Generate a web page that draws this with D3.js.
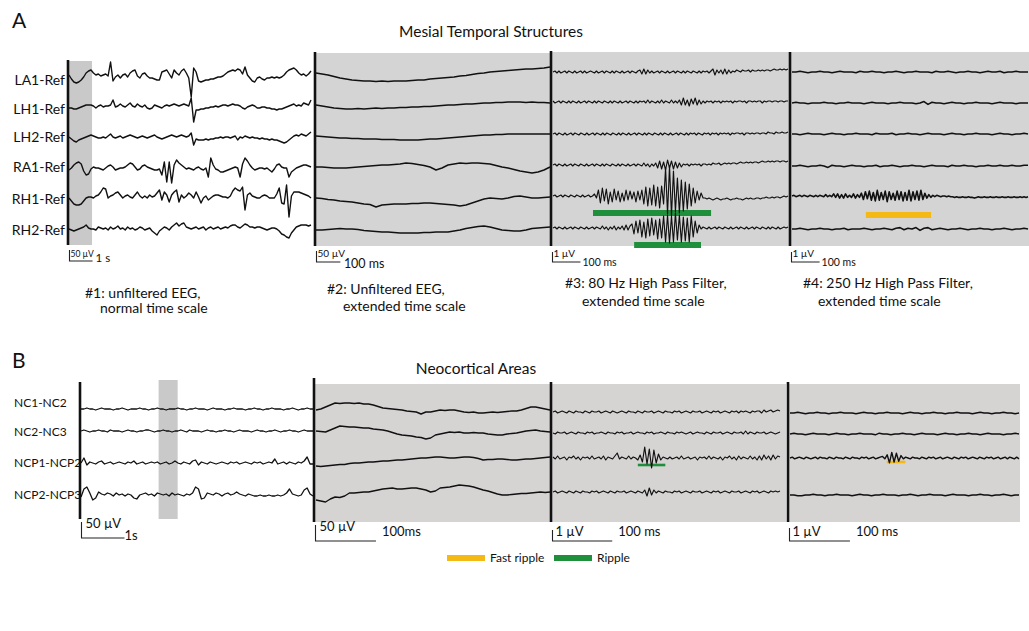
<!DOCTYPE html>
<html><head><meta charset="utf-8">
<script src="https://cdn.jsdelivr.net/npm/d3@7"></script>
<style>body{margin:0;background:#fff}svg{display:block}text{font-family:Lato,"Open Sans",sans-serif;fill:#111}</style>
</head><body><script>
// ---------------- DATA ----------------
const rowsA = ["LA1-Ref","LH1-Ref","LH2-Ref","RA1-Ref","RH1-Ref","RH2-Ref"];
const rowsB = ["NC1-NC2","NC2-NC3","NCP1-NCP2","NCP2-NCP3"];
const titleA = "Mesial Temporal Structures";
const titleB = "Neocortical Areas";
const captionsA = [["#1: unfiltered EEG,","normal time scale"],["#2: Unfiltered EEG,","extended time scale"],["#3: 80 Hz High Pass Filter,","extended time scale"],["#4: 250 Hz High Pass Filter,","extended time scale"]];
const scaleVoltA = ["50 µV","50 µV","1 µV","1 µV"];
const scaleTimeA = ["1 s","100 ms","100 ms","100 ms"];
const scaleVoltB = ["50 µV","50 µV","1 µV","1 µV"];
const scaleTimeB = ["1s","100ms","100 ms","100 ms"];
const durA = [10.5, 980, 840, 840];      // window length (s / ms)
const durB = [5.4, 387, 380, 379];
const barDurA = [1, 100, 100, 100];
const barDurB = [1, 100, 100, 100];
const barAmpA = [11, 11, 10, 10];        // scale-bar height in trace units
const barAmpB = [16, 16, 11, 13];
const highlightA = [0, 1];               // s, window shown in #2
const highlightB = [1.83, 2.25];
const legendTypes = ["Fast ripple","Ripple"];
const eventsA = [{panel:2,row:4,t0:143,t1:565,type:"Ripple"},{panel:2,row:5,t0:290,t1:529,type:"Ripple"},{panel:3,row:4,t0:263,t1:495,type:"Fast ripple"}];
const eventsB = [{panel:2,row:2,t0:142,t1:188,type:"Ripple"},{panel:3,row:2,t0:160,t1:191,type:"Fast ripple"}];

// Panel A #1 (unfiltered, 10 s)
const A1_LA1 = [0,-4,-7,-8,-7,-5,-2,2,4,5,2,0,1,-1,0,1,-1,13,-6,-2,0,-3,0,1,-2,2,4,5,-1,-3,1,2,-1,-3,-3,-4,-5,-5,3,4,5,1,-3,5,2,0,4,6,2,-3,-22,7,3,-6,-7,-6,-5,-5,-4,-4,-3,-2,-2,-1,1,3,4,5,4,6,5,1,8,0,-3,-6,-7,-3,-2,-4,-5,-3,-3,-2,-3,-2,-3,-2,0,3,5,6,7,5,2,0,1,-1,1,4];
const A1_LH1 = [-2,-2,-3,-3,-2,-1,0,1,1,1,0,-2,0,1,-1,0,0,1,6,-1,0,2,0,-1,1,3,0,-1,2,0,-1,1,-2,-3,-2,1,0,-1,-2,0,1,0,1,2,1,0,1,2,1,0,8,-16,-4,-4,-3,-3,-2,-2,-1,-1,0,-1,0,1,1,0,1,2,1,1,0,-2,-3,-1,0,1,0,-2,-2,-1,-1,-2,-2,-3,-3,-4,-3,-3,-2,-1,0,1,2,0,1,0,3,2,1,6];
const A1_LH2 = [0,-2,-4,-5,-3,-2,-1,0,1,2,1,0,-1,-1,0,-1,1,3,0,-1,0,1,-1,0,1,2,1,0,-1,0,1,0,-1,0,1,2,0,-1,-2,-1,0,1,2,1,0,1,2,1,0,1,4,-8,-2,-3,-3,-3,-2,-3,-2,-2,-1,-1,0,-1,0,0,-1,0,1,-3,0,-1,1,0,-1,0,-1,-1,-2,-1,-2,-2,-3,-2,-3,-3,-4,-5,-6,-5,-3,-1,1,2,1,3,2,1,3,5];
const A1_RA1 = [-3,-1,2,4,5,3,-4,-8,-7,-2,0,-1,-1,-2,-3,-1,1,2,0,-3,-2,-1,-1,0,2,4,3,0,-3,-2,1,2,0,-1,-2,-3,-3,-2,-8,5,-15,5,-16,2,7,4,2,0,-2,-1,-2,-3,-1,0,-2,-3,-1,-10,9,2,-2,-3,-5,-5,-4,-3,-2,-1,0,-1,-10,3,9,6,2,-1,-3,-2,-1,-1,-2,-1,-3,-5,-2,2,3,0,-1,-1,-10,-5,-3,-1,0,1,2,2,1,0];
const A1_RH1 = [0,-3,-6,-7,-7,-6,-3,0,1,1,0,2,3,6,10,9,0,2,3,5,6,3,0,2,3,1,0,3,6,2,0,2,0,3,1,2,5,8,-2,6,3,-4,3,6,8,-4,3,0,2,5,3,0,6,1,-5,0,2,-2,0,2,3,3,2,1,1,0,2,7,10,8,7,11,-12,3,5,2,1,0,0,2,3,2,0,0,0,4,10,-5,-6,13,-19,2,6,6,6,5,4,3,2,0];
const A1_RH2 = [0,-1,-2,-1,0,1,2,4,1,0,0,-1,2,1,0,1,-1,2,0,1,3,0,1,-1,2,0,1,-1,0,2,1,-1,0,1,-2,-4,-6,-2,0,2,1,-1,2,4,6,3,5,6,2,1,0,1,2,0,1,2,-1,1,2,0,1,2,0,1,2,1,3,4,4,2,1,3,5,4,2,2,1,2,2,1,0,-1,0,1,1,0,-2,-5,-6,-8,-9,-4,-1,2,3,4,4,4,3,4];

// Panel A #2 (unfiltered, ~1 s)
const A2_LA1 = [2,1,0,-1.5,-3,-4,-5,-5.5,-6,-6,-6.5,-6,-6.5,-6,-6,-6,-5.5,-5,-5,-4,-3.5,-3,-2.5,-2,-1,-0.5,0.5,1.5,2,3,3.5,4,4.5,5,5.5,6,6,6.5,7,8];
const A2_LH1 = [1,0,-1,-2,-2.5,-3,-3,-2.5,-3,-2.5,-2,-2.5,-2,-2,-1.5,-1.5,-1,-1,-0.5,-0.5,0,0.5,1,1,1.5,2,2,2.5,3,3,3.5,3.5,4,4,4,3.5,4,3.5,3.5,3];
const A2_LH2 = [1,0.5,0,-0.5,-1,-1,-1.5,-1.5,-2,-2,-2,-2.5,-2.5,-2.5,-3,-3,-3,-3,-2.5,-2,-2,-1.5,-1,-0.5,0,0.5,1,1.5,2,2,2.5,2.5,3,3,3,3,3,3,3,3];
const A2_RA1 = [0,0,-0.5,-1,-1,-1,-0.5,0,0.5,1,1.5,2,2,2.5,3,4,3.5,2.5,1.5,0,-3,-1,2,3,4,3.5,4,4,3.5,3,1.5,0,-1,-2.5,-4,-5,-6,-5,-3,0];
const A2_RH1 = [0,-0.5,-1.5,-2,-3,-3.5,-4,-5,-6,-6.5,-9,-7,-6.5,-6,-6,-6,-5.5,-5.5,-5,-5,-5.5,-6,-6.5,-7,-8,-7,-5,-3,-1,0,-0.5,-1,0,1.5,2,1,0,0,0.5,1];
const A2_RH2 = [-1,-1,-0.5,0,0.5,0,0,-0.5,-1.5,-2,-2.5,-3,-3,-3.5,-4,-4,-4,-4,-3.5,-3.5,-3,-3,-3,-2,-1,0.5,1.5,2.5,3,2,0.5,-1,-1.5,-2,-2,-1,0.5,1,1.5,2];

// Panel A #3 (80 Hz high pass)
const A3_LA1 = [0,1,-1,1,-1,0,1,-1,1,0,-1,1,-1,0,1,-1,1,-1,0,1,0,-1,1,-1,0,1,-1,1,0,-1,1,-1,1,0,-1,1,-1,0,1,-1,1,0,-1,1,2,-2,3,-2,2,-1,1,-1,0,1,-1,1,0,-1,1,-1,0,1,-1,1,0,-1,1,-1,1,0,-1,1,0,-1,1,-1,1,0,1,-1,1,3,-3,2,-1,2,-2,3,-2,2,-1,1,0,2,1,0,2,1,1,2,0,2,1,1,2,1,2,1,2,2,1,2,3,2,2,3,2,3,2,3];
const A3_LH1 = [1,-1,0,1,-1,1,0,-1,1,-1,1,0,-1,1,-1,0,1,-1,1,0,-1,1,-1,1,0,-1,1,0,-1,1,-1,1,0,-1,1,-1,0,1,-1,1,0,-1,1,-1,1,0,1,-1,2,-1,1,0,-1,1,-1,2,-1,1,0,-1,2,-1,1,-1,2,-3,4,-3,2,-4,3,-2,4,-3,2,-2,1,-1,1,0,1,-1,1,0,1,-1,1,0,1,0,1,-1,1,0,1,1,0,1,-1,1,1,0,1,0,1,1,-1,1,0,1,1,0,1,1,0,1,1,0,1,1];
const A3_LH2 = [0,1,-1,1,0,-1,1,-1,0,1,-1,1,0,-1,1,0,-1,1,-1,0,1,-1,1,0,-1,1,-1,1,0,-1,1,0,-1,1,-1,1,0,-1,1,-1,0,1,-1,1,0,-1,1,-1,1,0,-1,1,0,-1,1,-1,1,0,-1,1,-1,0,1,-1,1,0,-1,1,-1,1,0,1,-1,1,0,-1,1,0,1,-1,1,0,1,-1,1,0,1,0,1,-1,1,0,1,1,0,1,-1,1,1,0,1,0,1,1,0,1,1,0,2,1,1,0,2,1,1,2,1,1,2];
const A3_RA1 = [0,1,-1,1,0,-1,1,-1,0,1,-1,1,0,-1,1,0,-1,1,-1,0,1,-1,1,0,-1,1,-1,1,0,-1,1,0,-1,1,-1,1,0,-1,1,-1,0,1,-1,1,0,-1,2,-1,1,-2,1,-1,2,-3,4,-4,3,-5,5,-3,4,-4,3,-3,2,-2,1,0,1,-1,1,0,1,0,1,-1,1,1,0,1,0,2,1,1,2,0,1,2,1,2,1,2,2,1,2,3,2,2,3,2,3,2,3,3,2,3,4,3,3,4,3,4,3,4,4,3,4,4,3,4];
const A3_RH1 = [0,1,-1,0,1,-1,1,0,-1,1,0,-1,1,0,-1,1,-1,0,1,-1,0,2,-2,6,-7,8,-5,7,-8,4,-6,7,-4,5,-6,3,-5,6,-4,5,-3,4,-6,5,-4,6,-8,9,-10,8,-9,11,-10,9,-12,10,-8,28,-18,30,-20,25,-16,18,-17,16,-15,14,-13,12,-10,8,-7,5,-4,3,-2,-2,-3,-2,-3,-4,-3,-2,-3,-4,-3,-3,-2,-3,-4,-3,-3,-2,-3,-3,-4,-3,-2,-3,-2,-3,-3,-2,-2,-3,-2,-2,-1,-2,-2,-1,-2,-1,-1,-2,-1,0,-1,0];
const A3_RH2 = [0,1,-1,1,0,-1,1,-1,0,1,-1,1,0,-1,1,0,-1,1,-1,0,1,-1,1,0,-1,2,-1,1,-2,1,-1,2,-2,1,-1,2,-2,3,-2,2,4,-6,7,-5,8,-9,6,-10,9,-8,10,-7,8,-11,9,-10,12,-14,13,-15,12,-14,15,-12,13,-14,11,-13,10,-14,12,-9,7,-5,3,-1,1,0,-1,1,-1,0,1,-1,1,0,-1,1,0,-1,1,-1,0,1,-1,1,0,-1,1,-1,0,1,-1,1,0,-1,1,0,-1,1,-1,1,0,-1,1,-1,0,1,0,1];

// Panel A #4 (250 Hz high pass)
const A4_LA1 = [0,0,1,0,-1,0,0,1,0,0,-1,0,1,0,0,0,-1,1,0,0,1,0,0,-1,0,0,1,0,-1,0,0,1,0,0,0,-1,1,0,0,1,0,-1,0,0,1,0,0,-1,0,1,0,0,1,-1,0,0,1,0,0,0];
const A4_LH1 = [0,1,0,0,-1,0,0,0,1,0,0,-1,0,0,1,0,0,0,-1,0,1,0,0,0,-1,0,0,1,0,0,0,-1,0,2,-2,1,0,0,-1,0,1,0,0,-1,0,0,1,0,0,0,-1,0,1,0,0,0,-1,0,0,0];
const A4_LH2 = [0,0,-1,0,1,0,0,0,-1,0,1,0,0,-1,0,0,1,0,0,0,-1,1,0,0,0,1,-1,0,0,1,0,0,-1,0,1,0,0,0,-1,0,1,0,0,-1,0,0,1,0,0,0,-1,0,1,0,0,-1,0,0,1,0];
const A4_RA1 = [0,0,1,0,-1,0,0,1,0,-2,1,0,0,-1,0,1,0,0,-1,0,0,1,-1,0,0,1,0,-1,0,0,1,0,0,-1,0,1,0,0,0,-1,1,0,0,1,0,0,-1,0,0,1,0,0,1,0,0,1,0,0,1,1];
const A4_RH1 = [0,1,-1,0,1,-1,1,0,-1,1,0,-1,1,-1,1,0,-1,2,-1,1,-1,3,-2,3,-3,2,-3,3,-2,1,-2,3,-3,2,-2,4,-5,6,-4,7,-6,5,-7,8,-6,5,-5,7,-8,6,-5,4,-6,7,-5,6,-7,5,-6,8,-7,6,-5,7,-6,8,-5,4,-3,2,-2,1,-1,1,0,-1,0,0,-1,0,-1,-1,-2,-1,-2,-2,-1,-2,-2,-1,-2,-2,-3,-2,-1,-2,-2,-1,-2,-2,-1,-2,-2,-1,-2,-2,-1,-2,-2,-1,-2,-2,-1,-2,-2,-1,-2,-1,-2,-1];
const A4_RH2 = [0,0,1,0,-1,0,0,1,0,0,-1,0,0,1,-1,0,0,0,1,0,-1,0,0,1,0,-1,1,2,-1,1,0,2,-2,1,2,-1,0,1,0,-1,0,0,1,0,-1,0,0,1,0,0,-1,0,0,1,0,-1,0,0,1,0];

// Panel B #1 (unfiltered, 5 s)
const B1_NC1 = [0,0,1,0,0,-1,0,1,0,0,0,-1,0,0,1,0,-1,0,0,0,1,0,0,-1,0,0,1,0,0,-1,0,0,0,1,0,0,-1,0,0,1,0,0,0,-1,0,1,0,0,0,-1,0,0,1,0,0,0,-1,0,0,1,0,0,-1,0,0,1,0,0,0,-1,0,0,1,0,-1,0,0,1,0,0];
const B1_NC2 = [0,1,0,-1,0,0,1,0,0,-1,1,0,0,0,-1,0,1,0,0,-1,0,0,1,1,0,-1,0,0,1,0,0,-1,0,0,1,0,-1,1,0,0,0,-1,0,1,0,0,-1,0,0,1,0,0,-1,0,1,0,0,0,-1,0,1,0,0,-1,0,0,1,0,-1,0,0,1,0,0,-1,0,1,0,0,0];
const B1_NCP1 = [0,5,-2,1,0,-1,1,2,-1,0,1,-1,0,1,0,-1,1,0,2,-1,0,1,-1,0,1,0,1,-1,0,1,-1,0,2,0,-1,1,0,-1,2,3,-2,1,0,-1,1,0,-1,0,1,0,-1,1,0,1,-1,0,1,0,-1,1,0,1,-1,0,1,0,4,-1,0,1,-1,1,0,-1,1,0,2,6,-1,-1];
const B1_NCP2 = [-2,6,8,2,-5,-3,3,1,0,2,1,-1,2,0,1,-1,1,0,-3,-4,0,1,2,0,1,-1,2,1,0,1,-1,2,0,1,0,-1,1,0,2,8,6,-4,-3,2,1,0,2,1,-1,1,2,0,1,3,1,0,-1,1,0,-1,-1,0,-1,-1,0,-1,-1,0,-1,0,2,6,1,0,-1,0,5,7,1,-1];

// Panel B #2
const B2_NC1 = [-1,0,2,4,6,5.5,6,6,5.5,6,5,5,4,2.5,1,0.5,0,-0.5,-1,-2,-2.5,-3,-5,-3,-3,-2,-1,-1.5,-1,-1,-2,-3,-3.5,-3,-4,-4,-3.5,-3,-3.5,-3,-2.5,-2,-2,-1,0.5,2,2,1,0,-1];
const B2_NC2 = [0,-0.5,-1,1,3,5,4.5,4,4,3.5,3,3,2,1.5,1,0,-1.5,-3,-4,-4.5,-5,-6,-6.5,-8,-7,-4,-3,-2,-1,-1.5,-1,-2,-2,-1.5,-2,-2,-3,-3.5,-4,-4,-3,-2.5,-2,-1,0,0.5,1,0,-0.5,-1];
const B2_NCP1 = [-3,-3.5,-3,-2.5,-2,-1.5,-1.5,-0.5,0,0,0.5,1,1,1.5,2,2,2.5,3,3,3.5,4,4.5,5,5,5.5,6,6,5.5,5,5,5.5,6,6,5.5,4.5,3,3.5,3.5,4,4,3.5,3,3,3.5,4,4,4.5,5,5.5,6];
const B2_NCP2 = [-5,-6,-7,-4,-2,-2.5,-1,2,2,2.5,3,3,4,5,6,6.5,7,6,6,6.5,7,7,6,5,3,4,7,7.5,8,9,10,9.5,9,8,6.5,5,4,2.5,1,0,0,0.5,1,1.5,1.5,2,2.5,3,2.5,3];

// Panel B #3
const B3_NC1 = [0,1,-1,0,1,0,-1,1,0,-1,1,0,0,-1,1,0,-1,1,0,0,1,-1,0,1,0,-1,1,0,-1,0,1,0,-1,1,0,0,-1,1,0,-1,1,0,0,1,-1,0,1,0,-1,1,0,0,-1,1,0,1,-1,0,1,0,-1,1,0,0,1,-1,0,1,0,-1,1,0,1,-1,0,1,0,-1,1,0,1,-1,1,0,1,0,-1,1,0,1,1,-1,2,0,1,2,0,1,2,1];
const B3_NC2 = [0,-1,1,0,0,1,-1,0,1,0,-1,1,0,0,-1,1,0,1,-1,0,0,1,0,-1,1,0,0,-1,1,0,1,-1,0,0,1,-1,0,1,0,0,-1,1,0,1,-1,0,0,1,0,-1,1,0,0,-1,1,0,1,0,-1,0,1,-1,0,1,0,0,-1,1,0,-1,1,0,0,1,-1,0,1,0,-1,1,0,0,1,-1,2,-1,1,0,-1,1,0,0,1,-1,0,1,0,-1,0,1];
const B3_NCP1 = [1,-1,2,-1,0,1,-2,1,0,2,-1,1,-2,1,0,1,-1,2,-1,0,1,-1,2,-2,1,0,-1,2,5,-1,1,0,-1,2,-1,1,0,-2,3,-4,11,-6,9,-10,8,-5,4,-2,1,0,-1,1,-1,0,1,-1,2,-1,0,1,-1,0,1,-2,1,0,1,-1,2,-1,1,0,-1,1,-2,1,0,2,-1,1,-2,2,-1,1,0,-1,2,-1,1,-2,2,-2,3,-1,2,-2,3,-1,2,1];
const B3_NCP2 = [0,1,-1,0,1,0,-1,1,0,-1,1,0,-1,1,0,0,-1,1,0,1,-1,0,1,0,-1,1,0,-1,1,0,0,1,-1,0,1,0,-1,1,0,-1,2,-4,4,-3,2,-1,1,0,-1,1,0,0,-1,1,0,1,-1,0,1,0,-1,1,0,0,1,-1,0,1,0,-1,1,0,1,-1,0,1,0,-1,1,0,0,1,-1,0,1,0,-1,1,0,1,-1,0,1,0,-1,1,0,1,0,1];

// Panel B #4
const B4_NC1 = [0,0,1,0,-1,0,0,1,0,0,-1,0,0,1,0,0,0,-1,0,1,0,0,-1,0,0,1,0,0,0,-1,0,1,0,0,-1,0,0,1,0,0,-1,0,0,1,0,0,0,-1,0,1,0,0,-1,0,0,1,0,0,-1,0];
const B4_NC2 = [0,1,0,0,-1,0,1,0,0,0,-1,0,1,0,0,-1,0,0,1,0,0,0,-1,1,0,0,-1,0,0,1,0,0,-1,0,1,0,0,0,-1,0,1,0,0,-1,0,0,1,0,0,-1,0,1,0,0,0,-1,0,0,1,0];
const B4_NCP1 = [0,1,-1,0,1,0,-1,1,0,-1,0,1,-1,1,0,0,-1,1,0,-1,1,0,0,-1,1,0,-1,1,0,0,-1,1,0,1,-1,0,1,-1,0,1,2,-1,4,-6,7,-5,6,-4,3,-1,1,0,-1,1,0,0,-1,1,0,-1,1,0,1,-1,0,1,-1,0,1,0,-1,1,0,-1,1,0,1,-1,0,1,0,-1,1,0,-1,1,0,1,-1,0,1,-1,0,1,-1,1,0,-1,1,-1];
const B4_NCP2 = [0,0,-1,-1,0,0,1,0,0,-1,0,0,1,0,0,0,-1,0,1,0,0,-1,0,0,1,0,0,0,-1,0,0,1,0,-1,0,0,1,0,0,0,-1,0,1,0,0,0,-1,0,0,1,0,0,-1,0,0,1,0,-1,0,0];

const tracesA = [[A1_LA1,A1_LH1,A1_LH2,A1_RA1,A1_RH1,A1_RH2],[A2_LA1,A2_LH1,A2_LH2,A2_RA1,A2_RH1,A2_RH2],[A3_LA1,A3_LH1,A3_LH2,A3_RA1,A3_RH1,A3_RH2],[A4_LA1,A4_LH1,A4_LH2,A4_RA1,A4_RH1,A4_RH2]];
const tracesB = [[B1_NC1,B1_NC2,B1_NCP1,B1_NCP2],[B2_NC1,B2_NC2,B2_NCP1,B2_NCP2],[B3_NC1,B3_NC2,B3_NCP1,B3_NCP2],[B4_NC1,B4_NC2,B4_NCP1,B4_NCP2]];

// ---------------- LAYOUT ----------------
const GRAY = "#d4d4d4", GRAYB = "#d6d3d3", STRIP = "#c9c9c9";
const colorOf = {"Fast ripple":"#f5b916","Ripple":"#1f8f3c"};
const layoutA = [
  {x0:69, x1:311, base:[75,106,137,167,198,229], bg:null, line:[68,60,245], sw:1.4, gain:1, barY:261, barOff:0},
  {x0:316,x1:550, base:[75,106,137,167,198,229], bg:[316,53,550,246], line:[315,52,246], sw:1.4, gain:1, barY:262, barOff:0},
  {x0:553,x1:788, base:[72,102,134,165,196,228], bg:[552,52,790,246], line:[551,51,246], sw:1.15, gain:1, barY:262, barOff:17},
  {x0:792,x1:1028,base:[72,103,134,166,196,229], bg:[791,52,1029,246], line:[790,52,246], sw:1.6, gain:0.7, barY:262, barOff:19}
];
const layoutB = [
  {x0:81, x1:313, base:[409,431,463,495], bg:null, line:[80,382,519], sw:1.3, gain:1, barY:538, barOff:0},
  {x0:316,x1:550, base:[409,431,463,495], bg:[315,384,551,522], line:[314,378,522], sw:1.4, gain:1, barY:541, barOff:0},
  {x0:553,x1:780, base:[412,433,458,492], bg:[551,384,786,522], line:[551,382,522], sw:1.15, gain:1, barY:541, barOff:7},
  {x0:790,x1:1019,base:[413,434,458,495], bg:[789,384,1020,522], line:[788,382,522], sw:1.4, gain:0.8, barY:541, barOff:4}
];

const svg = d3.select("body").append("svg").attr("width",1029).attr("height",631);
const gBg = svg.append("g"), gEv = svg.append("g"), gTr = svg.append("g"), gAx = svg.append("g"), gTx = svg.append("g");

function drawGroup(layout, traces, durs, barDur, barAmp, events, evH, hl, hlY, bgColor) {
  layout.forEach((p, k) => {
    const x = d3.scaleLinear().domain([0, durs[k]]).range([p.x0, p.x1]);
    if (p.bg) gBg.append("rect").attr("x",p.bg[0]).attr("y",p.bg[1]).attr("width",p.bg[2]-p.bg[0]).attr("height",p.bg[3]-p.bg[1]).attr("fill",bgColor);
    if (k === 0) gBg.append("rect").attr("x",x(hl[0])-1).attr("y",hlY[0]).attr("width",x(hl[1])-x(hl[0])+1).attr("height",hlY[1]-hlY[0]).attr("fill",STRIP);
    traces[k].forEach((arr, r) => {
      const y = d3.scaleLinear().domain([0,1]).range([p.base[r], p.base[r]-p.gain]);
      const t = d3.scaleLinear().domain([0, arr.length-1]).range([0, durs[k]]);
      gTr.append("path").attr("d", d3.line().x((d,i)=>x(t(i))).y(d=>y(d))(arr))
        .attr("fill","none").attr("stroke","#111").attr("stroke-width",p.sw).attr("stroke-linejoin","round");
    });
    events.filter(e=>e.panel===k).forEach(e => {
      gEv.append("rect").attr("x",x(e.t0)).attr("width",x(e.t1)-x(e.t0))
        .attr("y",p.base[e.row]+p.barOff-evH/2).attr("height",evH).attr("fill",colorOf[e.type]);
    });
    gAx.append("line").attr("x1",p.line[0]).attr("x2",p.line[0]).attr("y1",p.line[1]).attr("y2",p.line[2]).attr("stroke","#111").attr("stroke-width",2.6);
    const yb = d3.scaleLinear().domain([0,1]).range([p.barY, p.barY-1]);
    const sx0 = p.line[0] + 1.5, sx1 = sx0 + (x(barDur[k]) - x(0));
    gAx.append("path").attr("d",`M${sx0},${yb(barAmp[k])}V${yb(0)}H${sx1}`).attr("fill","none").attr("stroke","#222").attr("stroke-width",1.1);
    p.sx0 = sx0; p.sx1 = sx1;
  });
}
drawGroup(layoutA, tracesA, durA, barDurA, barAmpA, eventsA, 6, highlightA, [61,245], GRAY);
drawGroup(layoutB, tracesB, durB, barDurB, barAmpB, eventsB, 2.6, highlightB, [380,519], GRAYB);

function txt(x, y, s, size, anchor) {
  return gTx.append("text").attr("x",x).attr("y",y).attr("font-size",size).attr("text-anchor",anchor||"start").text(s);
}
txt(12,28,"A",21); txt(12,368,"B",21);
txt(491,37,titleA,15.5,"middle");
txt(476,374,titleB,15.5,"middle");
const labYA = [80,109,137,167,199,230];
rowsA.forEach((s,i)=>txt(65,labYA[i]+5,s,14,"end"));
const labYB = [402,431,462,494];
rowsB.forEach((s,i)=>txt(14,labYB[i]+4.5,s,12,"start"));
// captions (two lines each)
const capX = [[85,100],[327,343],[565,582],[803,818]];
const capY = [[298,313],[294,311],[288,306],[288,306]];
captionsA.forEach((c,k)=>{
  const t = gTx.append("text").attr("font-size",14);
  t.append("tspan").attr("x",capX[k][0]).attr("y",capY[k][0]).text(c[0]);
  t.append("tspan").attr("x",capX[k][1]).attr("y",capY[k][1]).text(c[1]);
});
// scale-bar labels A: volt label tucked inside the L, time label after its end
const vSizeA=[8.5,10,10,10], tSizeA=[11.5,12.5,10.5,10.5], tDyA=[1,6,4,4], tDxA=[3,3.5,2,2];
layoutA.forEach((p,k)=>{
  txt(p.sx0+1, p.barY-(k===0?4:5), scaleVoltA[k], vSizeA[k]);
  txt(p.sx1+tDxA[k], p.barY+tDyA[k], scaleTimeA[k], tSizeA[k]);
});
const vDX=[4,4,3,3];
layoutB.forEach((p,k)=>{
  txt(p.sx0+vDX[k], p.barY-(k<2?10:5), scaleVoltB[k], 13);
  txt(p.sx1+(k===0?0:6), p.barY-(k===0?-2:5), scaleTimeB[k], 13);
});
const legX = [447,554];
legendTypes.forEach((s,i)=>{
  gTx.append("rect").attr("x",legX[i]).attr("y",555).attr("width",38).attr("height",6).attr("fill",colorOf[s]);
  txt(legX[i]+43,562,s,12);
});
</script></body></html>
